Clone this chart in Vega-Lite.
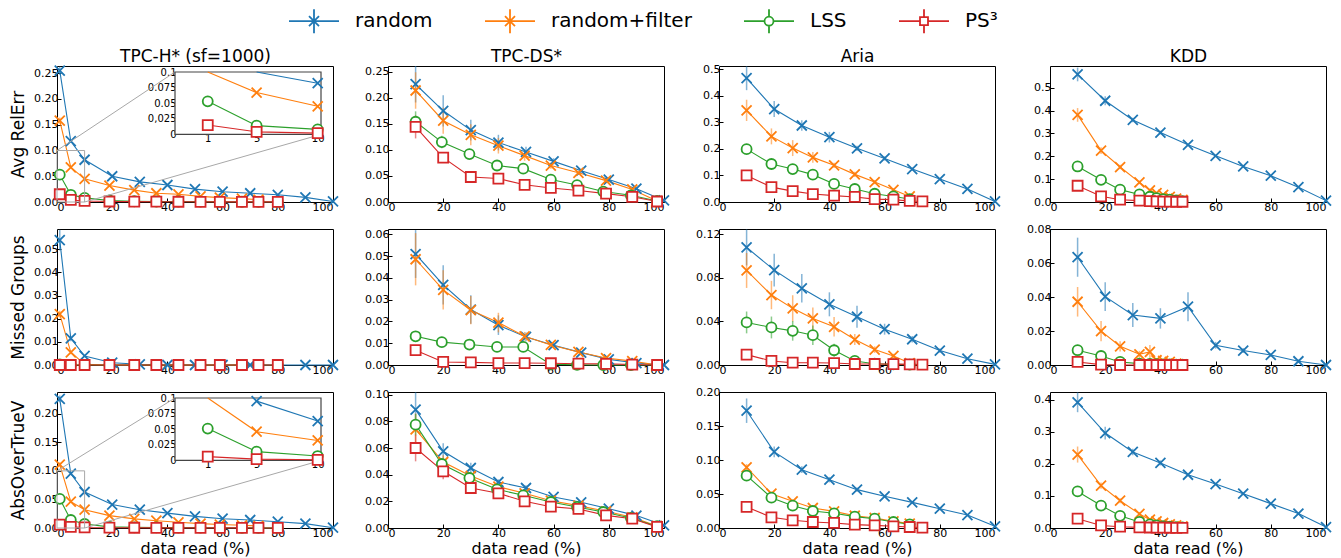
{
  "$schema": "https://vega.github.io/schema/vega-lite/v6.json",
  "padding": {"left": 9, "top": 10, "right": 8, "bottom": 2},
  "data": {
    "values": [
      {"d":"H","m":"rel","s":"random","x":1,"y":0.255,"e":0.008},{"d":"H","m":"rel","s":"random","x":5,"y":0.118,"e":0.003},{"d":"H","m":"rel","s":"random","x":10,"y":0.082},{"d":"H","m":"rel","s":"random","x":20,"y":0.05},{"d":"H","m":"rel","s":"random","x":30,"y":0.039},{"d":"H","m":"rel","s":"random","x":40,"y":0.033},{"d":"H","m":"rel","s":"random","x":50,"y":0.025},{"d":"H","m":"rel","s":"random","x":60,"y":0.02},{"d":"H","m":"rel","s":"random","x":70,"y":0.017},{"d":"H","m":"rel","s":"random","x":80,"y":0.014},{"d":"H","m":"rel","s":"random","x":90,"y":0.009},{"d":"H","m":"rel","s":"random","x":100,"y":0.001},
      {"d":"H","m":"rel","s":"random+filter","x":1,"y":0.158,"e":0.006},{"d":"H","m":"rel","s":"random+filter","x":5,"y":0.067},{"d":"H","m":"rel","s":"random+filter","x":10,"y":0.045},{"d":"H","m":"rel","s":"random+filter","x":19,"y":0.032},{"d":"H","m":"rel","s":"random+filter","x":28,"y":0.023},{"d":"H","m":"rel","s":"random+filter","x":36,"y":0.017},{"d":"H","m":"rel","s":"random+filter","x":44,"y":0.015},{"d":"H","m":"rel","s":"random+filter","x":52,"y":0.011},{"d":"H","m":"rel","s":"random+filter","x":59,"y":0.0085},{"d":"H","m":"rel","s":"random+filter","x":67,"y":0.0065},{"d":"H","m":"rel","s":"random+filter","x":73,"y":0.0045},
      {"d":"H","m":"rel","s":"LSS","x":1,"y":0.053},{"d":"H","m":"rel","s":"LSS","x":5,"y":0.014},{"d":"H","m":"rel","s":"LSS","x":10,"y":0.008},{"d":"H","m":"rel","s":"LSS","x":19,"y":0.003},{"d":"H","m":"rel","s":"LSS","x":28,"y":0.0015},{"d":"H","m":"rel","s":"LSS","x":36,"y":0.001},{"d":"H","m":"rel","s":"LSS","x":44,"y":0.001},{"d":"H","m":"rel","s":"LSS","x":52,"y":0.0008},{"d":"H","m":"rel","s":"LSS","x":59,"y":0.0006},{"d":"H","m":"rel","s":"LSS","x":67,"y":0.0005},{"d":"H","m":"rel","s":"LSS","x":73,"y":0.0004},{"d":"H","m":"rel","s":"LSS","x":80,"y":0.0003},
      {"d":"H","m":"rel","s":"PS³","x":1,"y":0.015},{"d":"H","m":"rel","s":"PS³","x":5,"y":0.004},{"d":"H","m":"rel","s":"PS³","x":10,"y":0.002},{"d":"H","m":"rel","s":"PS³","x":19,"y":0.001},{"d":"H","m":"rel","s":"PS³","x":28,"y":0.0008},{"d":"H","m":"rel","s":"PS³","x":36,"y":0.0006},{"d":"H","m":"rel","s":"PS³","x":44,"y":0.0005},{"d":"H","m":"rel","s":"PS³","x":52,"y":0.0004},{"d":"H","m":"rel","s":"PS³","x":59,"y":0.0003},{"d":"H","m":"rel","s":"PS³","x":67,"y":0.0003},{"d":"H","m":"rel","s":"PS³","x":73,"y":0.0002},{"d":"H","m":"rel","s":"PS³","x":80,"y":0.0002},

      {"d":"H","m":"miss","s":"random","x":1,"y":0.054,"e":0.0045},{"d":"H","m":"miss","s":"random","x":5,"y":0.0115,"e":0.0012},{"d":"H","m":"miss","s":"random","x":10,"y":0.0039,"e":0.0005},{"d":"H","m":"miss","s":"random","x":20,"y":0.001},{"d":"H","m":"miss","s":"random","x":30,"y":0.0003},{"d":"H","m":"miss","s":"random","x":40,"y":0},{"d":"H","m":"miss","s":"random","x":50,"y":0},{"d":"H","m":"miss","s":"random","x":60,"y":0},{"d":"H","m":"miss","s":"random","x":70,"y":0},{"d":"H","m":"miss","s":"random","x":80,"y":0},{"d":"H","m":"miss","s":"random","x":90,"y":0},{"d":"H","m":"miss","s":"random","x":100,"y":0},
      {"d":"H","m":"miss","s":"random+filter","x":1,"y":0.022,"e":0.0015},{"d":"H","m":"miss","s":"random+filter","x":5,"y":0.0055,"e":0.0008},{"d":"H","m":"miss","s":"random+filter","x":10,"y":0.0003},{"d":"H","m":"miss","s":"random+filter","x":19,"y":0},{"d":"H","m":"miss","s":"random+filter","x":28,"y":0},{"d":"H","m":"miss","s":"random+filter","x":36,"y":0},{"d":"H","m":"miss","s":"random+filter","x":44,"y":0},{"d":"H","m":"miss","s":"random+filter","x":52,"y":0},{"d":"H","m":"miss","s":"random+filter","x":59,"y":0},{"d":"H","m":"miss","s":"random+filter","x":67,"y":0},{"d":"H","m":"miss","s":"random+filter","x":73,"y":0},
      {"d":"H","m":"miss","s":"LSS","x":1,"y":0.0003},{"d":"H","m":"miss","s":"LSS","x":5,"y":0},{"d":"H","m":"miss","s":"LSS","x":10,"y":0},{"d":"H","m":"miss","s":"LSS","x":19,"y":0},{"d":"H","m":"miss","s":"LSS","x":28,"y":0},{"d":"H","m":"miss","s":"LSS","x":36,"y":0},{"d":"H","m":"miss","s":"LSS","x":44,"y":0},{"d":"H","m":"miss","s":"LSS","x":52,"y":0},{"d":"H","m":"miss","s":"LSS","x":59,"y":0},{"d":"H","m":"miss","s":"LSS","x":67,"y":0},{"d":"H","m":"miss","s":"LSS","x":73,"y":0},{"d":"H","m":"miss","s":"LSS","x":80,"y":0},
      {"d":"H","m":"miss","s":"PS³","x":1,"y":0},{"d":"H","m":"miss","s":"PS³","x":5,"y":0},{"d":"H","m":"miss","s":"PS³","x":10,"y":0},{"d":"H","m":"miss","s":"PS³","x":19,"y":0},{"d":"H","m":"miss","s":"PS³","x":28,"y":0},{"d":"H","m":"miss","s":"PS³","x":36,"y":0},{"d":"H","m":"miss","s":"PS³","x":44,"y":0},{"d":"H","m":"miss","s":"PS³","x":52,"y":0},{"d":"H","m":"miss","s":"PS³","x":59,"y":0},{"d":"H","m":"miss","s":"PS³","x":67,"y":0},{"d":"H","m":"miss","s":"PS³","x":73,"y":0},{"d":"H","m":"miss","s":"PS³","x":80,"y":0},

      {"d":"H","m":"abs","s":"random","x":1,"y":0.226,"e":0.006},{"d":"H","m":"abs","s":"random","x":5,"y":0.095},{"d":"H","m":"abs","s":"random","x":10,"y":0.063},{"d":"H","m":"abs","s":"random","x":20,"y":0.041},{"d":"H","m":"abs","s":"random","x":30,"y":0.032},{"d":"H","m":"abs","s":"random","x":40,"y":0.026},{"d":"H","m":"abs","s":"random","x":50,"y":0.0204},{"d":"H","m":"abs","s":"random","x":60,"y":0.0163},{"d":"H","m":"abs","s":"random","x":70,"y":0.014},{"d":"H","m":"abs","s":"random","x":80,"y":0.011},{"d":"H","m":"abs","s":"random","x":90,"y":0.0076},{"d":"H","m":"abs","s":"random","x":100,"y":0.0005},
      {"d":"H","m":"abs","s":"random+filter","x":1,"y":0.111,"e":0.004},{"d":"H","m":"abs","s":"random+filter","x":5,"y":0.046},{"d":"H","m":"abs","s":"random+filter","x":10,"y":0.032},{"d":"H","m":"abs","s":"random+filter","x":19,"y":0.0216},{"d":"H","m":"abs","s":"random+filter","x":28,"y":0.016},{"d":"H","m":"abs","s":"random+filter","x":36,"y":0.0128},{"d":"H","m":"abs","s":"random+filter","x":44,"y":0.01},{"d":"H","m":"abs","s":"random+filter","x":52,"y":0.0076},{"d":"H","m":"abs","s":"random+filter","x":59,"y":0.006},{"d":"H","m":"abs","s":"random+filter","x":67,"y":0.0047},{"d":"H","m":"abs","s":"random+filter","x":73,"y":0.0035},
      {"d":"H","m":"abs","s":"LSS","x":1,"y":0.051},{"d":"H","m":"abs","s":"LSS","x":5,"y":0.014},{"d":"H","m":"abs","s":"LSS","x":10,"y":0.007},{"d":"H","m":"abs","s":"LSS","x":19,"y":0.002},{"d":"H","m":"abs","s":"LSS","x":28,"y":0.0012},{"d":"H","m":"abs","s":"LSS","x":36,"y":0.001},{"d":"H","m":"abs","s":"LSS","x":44,"y":0.0008},{"d":"H","m":"abs","s":"LSS","x":52,"y":0.0006},{"d":"H","m":"abs","s":"LSS","x":59,"y":0.0005},{"d":"H","m":"abs","s":"LSS","x":67,"y":0.0004},{"d":"H","m":"abs","s":"LSS","x":73,"y":0.0003},{"d":"H","m":"abs","s":"LSS","x":80,"y":0.0003},
      {"d":"H","m":"abs","s":"PS³","x":1,"y":0.006},{"d":"H","m":"abs","s":"PS³","x":5,"y":0.002},{"d":"H","m":"abs","s":"PS³","x":10,"y":0.001},{"d":"H","m":"abs","s":"PS³","x":19,"y":0.0005},{"d":"H","m":"abs","s":"PS³","x":28,"y":0.0004},{"d":"H","m":"abs","s":"PS³","x":36,"y":0.0003},{"d":"H","m":"abs","s":"PS³","x":44,"y":0.0003},{"d":"H","m":"abs","s":"PS³","x":52,"y":0.0002},{"d":"H","m":"abs","s":"PS³","x":59,"y":0.0002},{"d":"H","m":"abs","s":"PS³","x":67,"y":0.0002},{"d":"H","m":"abs","s":"PS³","x":73,"y":0.0001},{"d":"H","m":"abs","s":"PS³","x":80,"y":0.0001},

      {"d":"DS","m":"rel","s":"random","x":10,"y":0.226,"e":0.035},{"d":"DS","m":"rel","s":"random","x":20,"y":0.175,"e":0.03},{"d":"DS","m":"rel","s":"random","x":30,"y":0.138,"e":0.02},{"d":"DS","m":"rel","s":"random","x":40,"y":0.114,"e":0.015},{"d":"DS","m":"rel","s":"random","x":50,"y":0.096,"e":0.01},{"d":"DS","m":"rel","s":"random","x":60,"y":0.078,"e":0.006},{"d":"DS","m":"rel","s":"random","x":70,"y":0.06,"e":0.004},{"d":"DS","m":"rel","s":"random","x":80,"y":0.043,"e":0.003},{"d":"DS","m":"rel","s":"random","x":90,"y":0.0255,"e":0.002},{"d":"DS","m":"rel","s":"random","x":100,"y":0.003},
      {"d":"DS","m":"rel","s":"random+filter","x":10,"y":0.214,"e":0.035},{"d":"DS","m":"rel","s":"random+filter","x":20,"y":0.156,"e":0.025},{"d":"DS","m":"rel","s":"random+filter","x":30,"y":0.129,"e":0.02},{"d":"DS","m":"rel","s":"random+filter","x":40,"y":0.108,"e":0.015},{"d":"DS","m":"rel","s":"random+filter","x":49.5,"y":0.089,"e":0.01},{"d":"DS","m":"rel","s":"random+filter","x":59,"y":0.07,"e":0.006},{"d":"DS","m":"rel","s":"random+filter","x":69,"y":0.056,"e":0.004},{"d":"DS","m":"rel","s":"random+filter","x":79,"y":0.041,"e":0.003},{"d":"DS","m":"rel","s":"random+filter","x":88.5,"y":0.024,"e":0.002},{"d":"DS","m":"rel","s":"random+filter","x":97.5,"y":0.002},
      {"d":"DS","m":"rel","s":"LSS","x":10,"y":0.154,"e":0.02},{"d":"DS","m":"rel","s":"LSS","x":19.5,"y":0.115,"e":0.012},{"d":"DS","m":"rel","s":"LSS","x":29.5,"y":0.092,"e":0.01},{"d":"DS","m":"rel","s":"LSS","x":39.5,"y":0.07,"e":0.006},{"d":"DS","m":"rel","s":"LSS","x":49,"y":0.064,"e":0.005},{"d":"DS","m":"rel","s":"LSS","x":59,"y":0.043,"e":0.003},{"d":"DS","m":"rel","s":"LSS","x":68.5,"y":0.0325,"e":0.002},{"d":"DS","m":"rel","s":"LSS","x":78,"y":0.02,"e":0.002},{"d":"DS","m":"rel","s":"LSS","x":88,"y":0.0128,"e":0.001},{"d":"DS","m":"rel","s":"LSS","x":97.5,"y":0.002},
      {"d":"DS","m":"rel","s":"PS³","x":10,"y":0.144,"e":0.022},{"d":"DS","m":"rel","s":"PS³","x":20,"y":0.085,"e":0.008},{"d":"DS","m":"rel","s":"PS³","x":30,"y":0.048,"e":0.004},{"d":"DS","m":"rel","s":"PS³","x":40,"y":0.045,"e":0.003},{"d":"DS","m":"rel","s":"PS³","x":49.5,"y":0.033,"e":0.003},{"d":"DS","m":"rel","s":"PS³","x":59,"y":0.027,"e":0.002},{"d":"DS","m":"rel","s":"PS³","x":69,"y":0.022,"e":0.002},{"d":"DS","m":"rel","s":"PS³","x":79,"y":0.016,"e":0.002},{"d":"DS","m":"rel","s":"PS³","x":88.5,"y":0.01,"e":0.001},{"d":"DS","m":"rel","s":"PS³","x":97.5,"y":0.001},

      {"d":"DS","m":"miss","s":"random","x":10,"y":0.051,"e":0.011},{"d":"DS","m":"miss","s":"random","x":20,"y":0.0368,"e":0.009},{"d":"DS","m":"miss","s":"random","x":30,"y":0.0255,"e":0.0065},{"d":"DS","m":"miss","s":"random","x":40,"y":0.0183,"e":0.0045},{"d":"DS","m":"miss","s":"random","x":50,"y":0.0129,"e":0.002},{"d":"DS","m":"miss","s":"random","x":60,"y":0.0091,"e":0.001},{"d":"DS","m":"miss","s":"random","x":70,"y":0.0057,"e":0.0005},{"d":"DS","m":"miss","s":"random","x":80,"y":0.0026,"e":0.0003},{"d":"DS","m":"miss","s":"random","x":90,"y":0.0009},{"d":"DS","m":"miss","s":"random","x":100,"y":0},
      {"d":"DS","m":"miss","s":"random+filter","x":10,"y":0.0486,"e":0.012},{"d":"DS","m":"miss","s":"random+filter","x":20,"y":0.0345,"e":0.009},{"d":"DS","m":"miss","s":"random+filter","x":30,"y":0.0252,"e":0.0065},{"d":"DS","m":"miss","s":"random+filter","x":40,"y":0.0195,"e":0.0045},{"d":"DS","m":"miss","s":"random+filter","x":49.5,"y":0.0132,"e":0.002},{"d":"DS","m":"miss","s":"random+filter","x":59,"y":0.0092,"e":0.001},{"d":"DS","m":"miss","s":"random+filter","x":69,"y":0.006,"e":0.0005},{"d":"DS","m":"miss","s":"random+filter","x":79,"y":0.0032,"e":0.0003},{"d":"DS","m":"miss","s":"random+filter","x":88.5,"y":0.0018},{"d":"DS","m":"miss","s":"random+filter","x":97.5,"y":0},
      {"d":"DS","m":"miss","s":"LSS","x":10,"y":0.0132,"e":0.002},{"d":"DS","m":"miss","s":"LSS","x":19.5,"y":0.0105,"e":0.0015},{"d":"DS","m":"miss","s":"LSS","x":29.5,"y":0.0094,"e":0.001},{"d":"DS","m":"miss","s":"LSS","x":39.5,"y":0.0083,"e":0.001},{"d":"DS","m":"miss","s":"LSS","x":49,"y":0.0083,"e":0.001},{"d":"DS","m":"miss","s":"LSS","x":59,"y":0.0003},{"d":"DS","m":"miss","s":"LSS","x":68.5,"y":0.0001},{"d":"DS","m":"miss","s":"LSS","x":78,"y":0},{"d":"DS","m":"miss","s":"LSS","x":88,"y":0},{"d":"DS","m":"miss","s":"LSS","x":97.5,"y":0},
      {"d":"DS","m":"miss","s":"PS³","x":10,"y":0.0068,"e":0.001},{"d":"DS","m":"miss","s":"PS³","x":20,"y":0.0014},{"d":"DS","m":"miss","s":"PS³","x":30,"y":0.0012},{"d":"DS","m":"miss","s":"PS³","x":40,"y":0.0009},{"d":"DS","m":"miss","s":"PS³","x":49.5,"y":0.0009},{"d":"DS","m":"miss","s":"PS³","x":59,"y":0.0008},{"d":"DS","m":"miss","s":"PS³","x":69,"y":0.0006},{"d":"DS","m":"miss","s":"PS³","x":79,"y":0.0005},{"d":"DS","m":"miss","s":"PS³","x":88.5,"y":0.0002},{"d":"DS","m":"miss","s":"PS³","x":97.5,"y":0},

      {"d":"DS","m":"abs","s":"random","x":10,"y":0.0888,"e":0.013},{"d":"DS","m":"abs","s":"random","x":20,"y":0.0575,"e":0.006},{"d":"DS","m":"abs","s":"random","x":30,"y":0.045,"e":0.004},{"d":"DS","m":"abs","s":"random","x":40,"y":0.0345,"e":0.002},{"d":"DS","m":"abs","s":"random","x":50,"y":0.03,"e":0.002},{"d":"DS","m":"abs","s":"random","x":60,"y":0.0233,"e":0.001},{"d":"DS","m":"abs","s":"random","x":70,"y":0.0193,"e":0.001},{"d":"DS","m":"abs","s":"random","x":80,"y":0.0145,"e":0.001},{"d":"DS","m":"abs","s":"random","x":90,"y":0.0093},{"d":"DS","m":"abs","s":"random","x":100,"y":0.002},
      {"d":"DS","m":"abs","s":"random+filter","x":10,"y":0.074,"e":0.012},{"d":"DS","m":"abs","s":"random+filter","x":20,"y":0.0495,"e":0.005},{"d":"DS","m":"abs","s":"random+filter","x":30,"y":0.039,"e":0.003},{"d":"DS","m":"abs","s":"random+filter","x":40,"y":0.031,"e":0.002},{"d":"DS","m":"abs","s":"random+filter","x":49.5,"y":0.026,"e":0.001},{"d":"DS","m":"abs","s":"random+filter","x":59,"y":0.0205,"e":0.001},{"d":"DS","m":"abs","s":"random+filter","x":69,"y":0.0168},{"d":"DS","m":"abs","s":"random+filter","x":79,"y":0.0125},{"d":"DS","m":"abs","s":"random+filter","x":88.5,"y":0.008},{"d":"DS","m":"abs","s":"random+filter","x":97.5,"y":0.0015},
      {"d":"DS","m":"abs","s":"LSS","x":10,"y":0.0775,"e":0.008},{"d":"DS","m":"abs","s":"LSS","x":19.5,"y":0.048,"e":0.004},{"d":"DS","m":"abs","s":"LSS","x":29.5,"y":0.0375,"e":0.003},{"d":"DS","m":"abs","s":"LSS","x":39.5,"y":0.029,"e":0.002},{"d":"DS","m":"abs","s":"LSS","x":49,"y":0.0245,"e":0.001},{"d":"DS","m":"abs","s":"LSS","x":59,"y":0.0195},{"d":"DS","m":"abs","s":"LSS","x":68.5,"y":0.0158},{"d":"DS","m":"abs","s":"LSS","x":78,"y":0.012},{"d":"DS","m":"abs","s":"LSS","x":88,"y":0.0075},{"d":"DS","m":"abs","s":"LSS","x":97.5,"y":0.0013},
      {"d":"DS","m":"abs","s":"PS³","x":10,"y":0.06,"e":0.01},{"d":"DS","m":"abs","s":"PS³","x":20,"y":0.0425,"e":0.006},{"d":"DS","m":"abs","s":"PS³","x":30,"y":0.03,"e":0.004},{"d":"DS","m":"abs","s":"PS³","x":40,"y":0.026,"e":0.003},{"d":"DS","m":"abs","s":"PS³","x":49.5,"y":0.02,"e":0.002},{"d":"DS","m":"abs","s":"PS³","x":59,"y":0.016,"e":0.001},{"d":"DS","m":"abs","s":"PS³","x":69,"y":0.0143},{"d":"DS","m":"abs","s":"PS³","x":79,"y":0.0095},{"d":"DS","m":"abs","s":"PS³","x":88.5,"y":0.007},{"d":"DS","m":"abs","s":"PS³","x":97.5,"y":0.0008},

      {"d":"Aria","m":"rel","s":"random","x":10,"y":0.466,"e":0.045},{"d":"Aria","m":"rel","s":"random","x":20,"y":0.35,"e":0.03},{"d":"Aria","m":"rel","s":"random","x":30,"y":0.288,"e":0.02},{"d":"Aria","m":"rel","s":"random","x":40,"y":0.244,"e":0.02},{"d":"Aria","m":"rel","s":"random","x":50,"y":0.202,"e":0.01},{"d":"Aria","m":"rel","s":"random","x":60,"y":0.164,"e":0.008},{"d":"Aria","m":"rel","s":"random","x":70,"y":0.124,"e":0.006},{"d":"Aria","m":"rel","s":"random","x":80,"y":0.0865,"e":0.004},{"d":"Aria","m":"rel","s":"random","x":90,"y":0.049,"e":0.003},{"d":"Aria","m":"rel","s":"random","x":100,"y":0.002},
      {"d":"Aria","m":"rel","s":"random+filter","x":10,"y":0.345,"e":0.04},{"d":"Aria","m":"rel","s":"random+filter","x":19,"y":0.247,"e":0.03},{"d":"Aria","m":"rel","s":"random+filter","x":26.7,"y":0.203,"e":0.03},{"d":"Aria","m":"rel","s":"random+filter","x":34,"y":0.168,"e":0.02},{"d":"Aria","m":"rel","s":"random+filter","x":41.7,"y":0.138,"e":0.01},{"d":"Aria","m":"rel","s":"random+filter","x":49.2,"y":0.104,"e":0.01},{"d":"Aria","m":"rel","s":"random+filter","x":56.4,"y":0.075,"e":0.008},{"d":"Aria","m":"rel","s":"random+filter","x":63.2,"y":0.046,"e":0.006},{"d":"Aria","m":"rel","s":"random+filter","x":69.1,"y":0.021,"e":0.004},
      {"d":"Aria","m":"rel","s":"LSS","x":10,"y":0.199,"e":0.015},{"d":"Aria","m":"rel","s":"LSS","x":19,"y":0.143,"e":0.01},{"d":"Aria","m":"rel","s":"LSS","x":26.7,"y":0.124,"e":0.008},{"d":"Aria","m":"rel","s":"LSS","x":34,"y":0.103,"e":0.006},{"d":"Aria","m":"rel","s":"LSS","x":41.7,"y":0.068,"e":0.005},{"d":"Aria","m":"rel","s":"LSS","x":49.2,"y":0.049,"e":0.004},{"d":"Aria","m":"rel","s":"LSS","x":56.4,"y":0.031,"e":0.003},{"d":"Aria","m":"rel","s":"LSS","x":63.2,"y":0.021,"e":0.002},{"d":"Aria","m":"rel","s":"LSS","x":69.1,"y":0.011,"e":0.002},
      {"d":"Aria","m":"rel","s":"PS³","x":10,"y":0.1,"e":0.01},{"d":"Aria","m":"rel","s":"PS³","x":19,"y":0.056,"e":0.005},{"d":"Aria","m":"rel","s":"PS³","x":26.7,"y":0.041,"e":0.004},{"d":"Aria","m":"rel","s":"PS³","x":34,"y":0.03,"e":0.003},{"d":"Aria","m":"rel","s":"PS³","x":41.7,"y":0.024},{"d":"Aria","m":"rel","s":"PS³","x":49.2,"y":0.019},{"d":"Aria","m":"rel","s":"PS³","x":56.4,"y":0.011},{"d":"Aria","m":"rel","s":"PS³","x":63.2,"y":0.009},{"d":"Aria","m":"rel","s":"PS³","x":69.1,"y":0.004},{"d":"Aria","m":"rel","s":"PS³","x":73.7,"y":0.002},

      {"d":"Aria","m":"miss","s":"random","x":10,"y":0.1077,"e":0.0165},{"d":"Aria","m":"miss","s":"random","x":20,"y":0.0869,"e":0.015},{"d":"Aria","m":"miss","s":"random","x":30,"y":0.0703,"e":0.013},{"d":"Aria","m":"miss","s":"random","x":40,"y":0.0556,"e":0.011},{"d":"Aria","m":"miss","s":"random","x":50,"y":0.0442,"e":0.01},{"d":"Aria","m":"miss","s":"random","x":60,"y":0.0328,"e":0.005},{"d":"Aria","m":"miss","s":"random","x":70,"y":0.0236,"e":0.003},{"d":"Aria","m":"miss","s":"random","x":80,"y":0.0132,"e":0.002},{"d":"Aria","m":"miss","s":"random","x":90,"y":0.0058,"e":0.001},{"d":"Aria","m":"miss","s":"random","x":100,"y":0.0006},
      {"d":"Aria","m":"miss","s":"random+filter","x":10,"y":0.0866,"e":0.016},{"d":"Aria","m":"miss","s":"random+filter","x":19,"y":0.0641,"e":0.013},{"d":"Aria","m":"miss","s":"random+filter","x":26.7,"y":0.0519,"e":0.012},{"d":"Aria","m":"miss","s":"random+filter","x":34,"y":0.0427,"e":0.01},{"d":"Aria","m":"miss","s":"random+filter","x":41.7,"y":0.035,"e":0.009},{"d":"Aria","m":"miss","s":"random+filter","x":49.2,"y":0.0233,"e":0.005},{"d":"Aria","m":"miss","s":"random+filter","x":56.4,"y":0.0141,"e":0.003},{"d":"Aria","m":"miss","s":"random+filter","x":63.2,"y":0.0083,"e":0.002},{"d":"Aria","m":"miss","s":"random+filter","x":69.1,"y":0.0018,"e":0.001},
      {"d":"Aria","m":"miss","s":"LSS","x":10,"y":0.039,"e":0.01},{"d":"Aria","m":"miss","s":"LSS","x":19,"y":0.0344,"e":0.01},{"d":"Aria","m":"miss","s":"LSS","x":26.7,"y":0.0313,"e":0.009},{"d":"Aria","m":"miss","s":"LSS","x":34,"y":0.0273,"e":0.009},{"d":"Aria","m":"miss","s":"LSS","x":41.7,"y":0.0135,"e":0.006},{"d":"Aria","m":"miss","s":"LSS","x":49.2,"y":0.0037,"e":0.002},{"d":"Aria","m":"miss","s":"LSS","x":56.4,"y":0.0012,"e":0.001},{"d":"Aria","m":"miss","s":"LSS","x":63.2,"y":0.0006},{"d":"Aria","m":"miss","s":"LSS","x":69.1,"y":0.0003},
      {"d":"Aria","m":"miss","s":"PS³","x":10,"y":0.0095,"e":0.002},{"d":"Aria","m":"miss","s":"PS³","x":19,"y":0.0037,"e":0.001},{"d":"Aria","m":"miss","s":"PS³","x":26.7,"y":0.0021},{"d":"Aria","m":"miss","s":"PS³","x":34,"y":0.0021},{"d":"Aria","m":"miss","s":"PS³","x":41.7,"y":0.0018},{"d":"Aria","m":"miss","s":"PS³","x":49.2,"y":0.0009},{"d":"Aria","m":"miss","s":"PS³","x":56.4,"y":0.0009},{"d":"Aria","m":"miss","s":"PS³","x":63.2,"y":0.0008},{"d":"Aria","m":"miss","s":"PS³","x":69.1,"y":0.0006},{"d":"Aria","m":"miss","s":"PS³","x":73.7,"y":0.0003},

      {"d":"Aria","m":"abs","s":"random","x":10,"y":0.1725,"e":0.018},{"d":"Aria","m":"abs","s":"random","x":20,"y":0.112,"e":0.008},{"d":"Aria","m":"abs","s":"random","x":30,"y":0.0858,"e":0.005},{"d":"Aria","m":"abs","s":"random","x":40,"y":0.0711,"e":0.004},{"d":"Aria","m":"abs","s":"random","x":50,"y":0.0564,"e":0.003},{"d":"Aria","m":"abs","s":"random","x":60,"y":0.0466,"e":0.002},{"d":"Aria","m":"abs","s":"random","x":70,"y":0.0377,"e":0.002},{"d":"Aria","m":"abs","s":"random","x":80,"y":0.0284,"e":0.001},{"d":"Aria","m":"abs","s":"random","x":90,"y":0.0191,"e":0.001},{"d":"Aria","m":"abs","s":"random","x":100,"y":0.0025},
      {"d":"Aria","m":"abs","s":"random+filter","x":10,"y":0.089,"e":0.005},{"d":"Aria","m":"abs","s":"random+filter","x":19,"y":0.0505,"e":0.003},{"d":"Aria","m":"abs","s":"random+filter","x":26.7,"y":0.0392,"e":0.003},{"d":"Aria","m":"abs","s":"random+filter","x":34,"y":0.0294,"e":0.002},{"d":"Aria","m":"abs","s":"random+filter","x":41.7,"y":0.0245,"e":0.002},{"d":"Aria","m":"abs","s":"random+filter","x":49.2,"y":0.018,"e":0.001},{"d":"Aria","m":"abs","s":"random+filter","x":56.4,"y":0.0147,"e":0.001},{"d":"Aria","m":"abs","s":"random+filter","x":63.2,"y":0.0098,"e":0.001},{"d":"Aria","m":"abs","s":"random+filter","x":69.1,"y":0.0064,"e":0.001},
      {"d":"Aria","m":"abs","s":"LSS","x":10,"y":0.077,"e":0.004},{"d":"Aria","m":"abs","s":"LSS","x":19,"y":0.0446,"e":0.003},{"d":"Aria","m":"abs","s":"LSS","x":26.7,"y":0.0328,"e":0.002},{"d":"Aria","m":"abs","s":"LSS","x":34,"y":0.025,"e":0.002},{"d":"Aria","m":"abs","s":"LSS","x":41.7,"y":0.0216,"e":0.001},{"d":"Aria","m":"abs","s":"LSS","x":49.2,"y":0.0167},{"d":"Aria","m":"abs","s":"LSS","x":56.4,"y":0.0137},{"d":"Aria","m":"abs","s":"LSS","x":63.2,"y":0.0088},{"d":"Aria","m":"abs","s":"LSS","x":69.1,"y":0.0054},
      {"d":"Aria","m":"abs","s":"PS³","x":10,"y":0.031,"e":0.002},{"d":"Aria","m":"abs","s":"PS³","x":19,"y":0.0157,"e":0.001},{"d":"Aria","m":"abs","s":"PS³","x":26.7,"y":0.0113},{"d":"Aria","m":"abs","s":"PS³","x":34,"y":0.0088},{"d":"Aria","m":"abs","s":"PS³","x":41.7,"y":0.0074},{"d":"Aria","m":"abs","s":"PS³","x":49.2,"y":0.0049},{"d":"Aria","m":"abs","s":"PS³","x":56.4,"y":0.0039},{"d":"Aria","m":"abs","s":"PS³","x":63.2,"y":0.0025},{"d":"Aria","m":"abs","s":"PS³","x":69.1,"y":0.0015},{"d":"Aria","m":"abs","s":"PS³","x":73.7,"y":0.0005},

      {"d":"KDD","m":"rel","s":"random","x":10,"y":0.558,"e":0.03},{"d":"KDD","m":"rel","s":"random","x":20,"y":0.443,"e":0.02},{"d":"KDD","m":"rel","s":"random","x":30,"y":0.359,"e":0.01},{"d":"KDD","m":"rel","s":"random","x":40,"y":0.304,"e":0.008},{"d":"KDD","m":"rel","s":"random","x":50,"y":0.25,"e":0.006},{"d":"KDD","m":"rel","s":"random","x":60,"y":0.202,"e":0.005},{"d":"KDD","m":"rel","s":"random","x":70,"y":0.1555,"e":0.004},{"d":"KDD","m":"rel","s":"random","x":80,"y":0.115,"e":0.003},{"d":"KDD","m":"rel","s":"random","x":90,"y":0.065,"e":0.002},{"d":"KDD","m":"rel","s":"random","x":100,"y":0.006},
      {"d":"KDD","m":"rel","s":"random+filter","x":10,"y":0.381,"e":0.03},{"d":"KDD","m":"rel","s":"random+filter","x":18.5,"y":0.225,"e":0.015},{"d":"KDD","m":"rel","s":"random+filter","x":25.4,"y":0.153,"e":0.01},{"d":"KDD","m":"rel","s":"random+filter","x":32.4,"y":0.086,"e":0.008},{"d":"KDD","m":"rel","s":"random+filter","x":36.2,"y":0.051,"e":0.008},{"d":"KDD","m":"rel","s":"random+filter","x":38.6,"y":0.039,"e":0.006},{"d":"KDD","m":"rel","s":"random+filter","x":41,"y":0.031,"e":0.005},{"d":"KDD","m":"rel","s":"random+filter","x":43.4,"y":0.022,"e":0.004},{"d":"KDD","m":"rel","s":"random+filter","x":45.7,"y":0.015,"e":0.003},{"d":"KDD","m":"rel","s":"random+filter","x":48,"y":0.009,"e":0.002},
      {"d":"KDD","m":"rel","s":"LSS","x":10,"y":0.1555,"e":0.005},{"d":"KDD","m":"rel","s":"LSS","x":18.5,"y":0.097,"e":0.004},{"d":"KDD","m":"rel","s":"LSS","x":25.4,"y":0.054,"e":0.003},{"d":"KDD","m":"rel","s":"LSS","x":32.4,"y":0.033},{"d":"KDD","m":"rel","s":"LSS","x":36.2,"y":0.023},{"d":"KDD","m":"rel","s":"LSS","x":38.6,"y":0.017},{"d":"KDD","m":"rel","s":"LSS","x":41,"y":0.013},{"d":"KDD","m":"rel","s":"LSS","x":43.4,"y":0.01},{"d":"KDD","m":"rel","s":"LSS","x":45.7,"y":0.007},{"d":"KDD","m":"rel","s":"LSS","x":48,"y":0.004},
      {"d":"KDD","m":"rel","s":"PS³","x":10,"y":0.071,"e":0.004},{"d":"KDD","m":"rel","s":"PS³","x":18.5,"y":0.025},{"d":"KDD","m":"rel","s":"PS³","x":25.4,"y":0.01},{"d":"KDD","m":"rel","s":"PS³","x":32.4,"y":0.006},{"d":"KDD","m":"rel","s":"PS³","x":36.2,"y":0.004},{"d":"KDD","m":"rel","s":"PS³","x":38.6,"y":0.003},{"d":"KDD","m":"rel","s":"PS³","x":41,"y":0.002},{"d":"KDD","m":"rel","s":"PS³","x":43.4,"y":0.002},{"d":"KDD","m":"rel","s":"PS³","x":45.7,"y":0.001},{"d":"KDD","m":"rel","s":"PS³","x":48,"y":0.001},

      {"d":"KDD","m":"miss","s":"random","x":10,"y":0.0634,"e":0.0115},{"d":"KDD","m":"miss","s":"random","x":20,"y":0.0402,"e":0.0085},{"d":"KDD","m":"miss","s":"random","x":30,"y":0.0294,"e":0.007},{"d":"KDD","m":"miss","s":"random","x":40,"y":0.0274,"e":0.006},{"d":"KDD","m":"miss","s":"random","x":50,"y":0.0343,"e":0.0085},{"d":"KDD","m":"miss","s":"random","x":60,"y":0.0116,"e":0.002},{"d":"KDD","m":"miss","s":"random","x":70,"y":0.0085,"e":0.0015},{"d":"KDD","m":"miss","s":"random","x":80,"y":0.0059,"e":0.001},{"d":"KDD","m":"miss","s":"random","x":90,"y":0.0022,"e":0.001},{"d":"KDD","m":"miss","s":"random","x":100,"y":0},
      {"d":"KDD","m":"miss","s":"random+filter","x":10,"y":0.0372,"e":0.0087},{"d":"KDD","m":"miss","s":"random+filter","x":18.5,"y":0.0199,"e":0.006},{"d":"KDD","m":"miss","s":"random+filter","x":25.4,"y":0.011,"e":0.003},{"d":"KDD","m":"miss","s":"random+filter","x":32.4,"y":0.0063,"e":0.002},{"d":"KDD","m":"miss","s":"random+filter","x":36.2,"y":0.0077,"e":0.004},{"d":"KDD","m":"miss","s":"random+filter","x":38.6,"y":0.0028,"e":0.001},{"d":"KDD","m":"miss","s":"random+filter","x":41,"y":0.0024,"e":0.001},{"d":"KDD","m":"miss","s":"random+filter","x":43.4,"y":0.0018,"e":0.001},{"d":"KDD","m":"miss","s":"random+filter","x":45.7,"y":0.0008},{"d":"KDD","m":"miss","s":"random+filter","x":48,"y":0.0004},
      {"d":"KDD","m":"miss","s":"LSS","x":10,"y":0.0087,"e":0.002},{"d":"KDD","m":"miss","s":"LSS","x":18.5,"y":0.0053,"e":0.001},{"d":"KDD","m":"miss","s":"LSS","x":25.4,"y":0.0018},{"d":"KDD","m":"miss","s":"LSS","x":32.4,"y":0.0008},{"d":"KDD","m":"miss","s":"LSS","x":36.2,"y":0.0006},{"d":"KDD","m":"miss","s":"LSS","x":38.6,"y":0.0005},{"d":"KDD","m":"miss","s":"LSS","x":41,"y":0.0004},{"d":"KDD","m":"miss","s":"LSS","x":43.4,"y":0.0003},{"d":"KDD","m":"miss","s":"LSS","x":45.7,"y":0.0002},{"d":"KDD","m":"miss","s":"LSS","x":48,"y":0.0002},
      {"d":"KDD","m":"miss","s":"PS³","x":10,"y":0.0018,"e":0.0008},{"d":"KDD","m":"miss","s":"PS³","x":18.5,"y":0.0002},{"d":"KDD","m":"miss","s":"PS³","x":25.4,"y":0},{"d":"KDD","m":"miss","s":"PS³","x":32.4,"y":0},{"d":"KDD","m":"miss","s":"PS³","x":36.2,"y":0},{"d":"KDD","m":"miss","s":"PS³","x":38.6,"y":0},{"d":"KDD","m":"miss","s":"PS³","x":41,"y":0},{"d":"KDD","m":"miss","s":"PS³","x":43.4,"y":0},{"d":"KDD","m":"miss","s":"PS³","x":45.7,"y":0},{"d":"KDD","m":"miss","s":"PS³","x":48,"y":0},

      {"d":"KDD","m":"abs","s":"random","x":10,"y":0.392,"e":0.031},{"d":"KDD","m":"abs","s":"random","x":20,"y":0.296,"e":0.02},{"d":"KDD","m":"abs","s":"random","x":30,"y":0.237,"e":0.01},{"d":"KDD","m":"abs","s":"random","x":40,"y":0.203,"e":0.008},{"d":"KDD","m":"abs","s":"random","x":50,"y":0.166,"e":0.005},{"d":"KDD","m":"abs","s":"random","x":60,"y":0.137,"e":0.004},{"d":"KDD","m":"abs","s":"random","x":70,"y":0.107,"e":0.003},{"d":"KDD","m":"abs","s":"random","x":80,"y":0.076,"e":0.002},{"d":"KDD","m":"abs","s":"random","x":90,"y":0.045,"e":0.002},{"d":"KDD","m":"abs","s":"random","x":100,"y":0.003},
      {"d":"KDD","m":"abs","s":"random+filter","x":10,"y":0.229,"e":0.025},{"d":"KDD","m":"abs","s":"random+filter","x":18.5,"y":0.132,"e":0.01},{"d":"KDD","m":"abs","s":"random+filter","x":25.4,"y":0.085,"e":0.008},{"d":"KDD","m":"abs","s":"random+filter","x":32.4,"y":0.044,"e":0.006},{"d":"KDD","m":"abs","s":"random+filter","x":36.2,"y":0.026,"e":0.005},{"d":"KDD","m":"abs","s":"random+filter","x":38.6,"y":0.021,"e":0.004},{"d":"KDD","m":"abs","s":"random+filter","x":41,"y":0.0156,"e":0.003},{"d":"KDD","m":"abs","s":"random+filter","x":43.4,"y":0.011,"e":0.002},{"d":"KDD","m":"abs","s":"random+filter","x":45.7,"y":0.008},{"d":"KDD","m":"abs","s":"random+filter","x":48,"y":0.005},
      {"d":"KDD","m":"abs","s":"LSS","x":10,"y":0.114,"e":0.005},{"d":"KDD","m":"abs","s":"LSS","x":18.5,"y":0.07,"e":0.004},{"d":"KDD","m":"abs","s":"LSS","x":25.4,"y":0.038,"e":0.003},{"d":"KDD","m":"abs","s":"LSS","x":32.4,"y":0.019},{"d":"KDD","m":"abs","s":"LSS","x":36.2,"y":0.011},{"d":"KDD","m":"abs","s":"LSS","x":38.6,"y":0.008},{"d":"KDD","m":"abs","s":"LSS","x":41,"y":0.006},{"d":"KDD","m":"abs","s":"LSS","x":43.4,"y":0.004},{"d":"KDD","m":"abs","s":"LSS","x":45.7,"y":0.003},{"d":"KDD","m":"abs","s":"LSS","x":48,"y":0.002},
      {"d":"KDD","m":"abs","s":"PS³","x":10,"y":0.029,"e":0.003},{"d":"KDD","m":"abs","s":"PS³","x":18.5,"y":0.008},{"d":"KDD","m":"abs","s":"PS³","x":25.4,"y":0.004},{"d":"KDD","m":"abs","s":"PS³","x":32.4,"y":0.002},{"d":"KDD","m":"abs","s":"PS³","x":36.2,"y":0.0015},{"d":"KDD","m":"abs","s":"PS³","x":38.6,"y":0.001},{"d":"KDD","m":"abs","s":"PS³","x":41,"y":0.001},{"d":"KDD","m":"abs","s":"PS³","x":43.4,"y":0.0008},{"d":"KDD","m":"abs","s":"PS³","x":45.7,"y":0.0006},{"d":"KDD","m":"abs","s":"PS³","x":48,"y":0.0005}
    ]
  },
  "columns": 4,
  "spacing": {"row": 27, "column": 55},
  "bounds": "flush",
  "concat": [
    {
      "width": 276, "height": 136,
      "transform": [{"filter": "datum.d == 'H' && datum.m == 'rel'"}],
      "layer": [
        {
          "encoding": {
            "x": {"field": "x", "type": "quantitative", "scale": {"domain": [0, 100]}, "axis": {"values": [0, 20, 40, 60, 80, 100], "title": null}},
            "y": {"field": "y", "type": "quantitative", "scale": {"domain": [0, 0.264], "nice": false}, "axis": {"values": [0, 0.05, 0.1, 0.15, 0.2, 0.25], "format": ".2f", "title": "Avg RelErr"}},
            "color": {
              "field": "s", "type": "nominal",
              "scale": {"domain": ["random", "random+filter", "LSS", "PS³"], "range": ["#1f77b4", "#ff7f0e", "#2ca02c", "#d62728"]},
              "legend": {
                "orient": "none", "legendX": 246, "legendY": -56, "direction": "horizontal", "title": null,
                "labelFontSize": 20, "labelFont": "DejaVu Sans", "labelColor": "black",
                "symbolSize": 400, "columnPadding": 48, "labelOffset": 30, "symbolStrokeWidth": 1.8,
                "encode": {
                  "symbols": {
                    "update": {
                      "shape": {"signal": "datum.value == 'LSS' ? 'M-2.5,0L-0.45,0M0.45,0L2.5,0M0.45,0A0.45 0.45 0 1 1 -0.45,0A0.45 0.45 0 1 1 0.45,0M0,-1.2L0,-0.45M0,0.45L0,1.2' : datum.value == 'PS³' ? 'M-2.5,0L-0.4,0M0.4,0L2.5,0M-0.4,-0.4L0.4,-0.4L0.4,0.4L-0.4,0.4ZM0,-1.2L0,-0.4M0,0.4L0,1.2' : 'M-2.5,0L2.5,0M-0.5,-0.5L0.5,0.5M-0.5,0.5L0.5,-0.5M0,-1.2L0,1.2'"},
                      "size": {"value": 400},
                      "fill": {"value": "transparent"},
                      "stroke": {"scale": "color", "field": "value"},
                      "strokeWidth": {"value": 1.8},
                      "opacity": {"value": 1}
                    }
                  }
                }
              }
            }
          },
          "layer": [
            {"transform": [{"filter": "datum.e > 0"}], "mark": {"type": "errorbar", "ticks": false, "clip": true, "rule": {"strokeWidth": 1.5, "opacity": 0.55}}, "encoding": {"yError": {"field": "e"}}},
            {"mark": {"type": "line", "strokeWidth": 1.1}, "encoding": {"x": {"field": "x", "type": "quantitative", "axis": null}}},
            {"mark": {"type": "point", "filled": false, "fill": "white", "size": 100, "strokeWidth": 1.8, "opacity": 1}, "encoding": {"x": {"field": "x", "type": "quantitative", "axis": {"orient": "top", "title": "TPC-H* (sf=1000)", "labels": false, "ticks": false, "domain": false, "titlePadding": 1, "titleFontSize": 17}}, "shape": {"condition": [{"test": "datum.s == 'LSS'", "value": "circle"}, {"test": "datum.s == 'PS³'", "value": "square"}], "value": "M-1,-1L1,1M-1,1L1,-1"}}},
            {"transform": [{"filter": "datum.s == 'random' && datum.x == 10"}], "mark": {"type": "rect", "fill": null, "stroke": "#a8a8a8", "strokeWidth": 1}, "encoding": {"x": {"datum": 0, "axis": null}, "x2": {"datum": 10}, "y": {"datum": 0}, "y2": {"datum": 0.1}, "color": {"value": "#a8a8a8"}}},
            {"transform": [{"filter": "datum.s == 'random' && datum.x == 10"}], "mark": {"type": "rule", "strokeWidth": 1}, "encoding": {"x": {"datum": 0, "axis": null}, "y": {"datum": 0.1}, "x2": {"datum": 42.75}, "y2": {"datum": 0.2524}, "color": {"value": "#a8a8a8"}}},
            {"transform": [{"filter": "datum.s == 'random' && datum.x == 10"}], "mark": {"type": "rule", "strokeWidth": 1}, "encoding": {"x": {"datum": 10, "axis": null}, "y": {"datum": 0}, "x2": {"datum": 95.65}, "y2": {"datum": 0.1312}, "color": {"value": "#a8a8a8"}}}
          ],
          "resolve": {"axis": {"x": "independent"}}
        },
        {
          "transform": [{"filter": "datum.x <= 10"}, {"window": [{"op": "lead", "field": "y", "as": "ny"}], "groupby": ["s"], "sort": [{"field": "x"}]}],
          "encoding": {
            "x": {"field": "x", "type": "quantitative", "scale": {"domain": [-1.68, 10.27], "range": [118, 264], "nice": false, "zero": false}, "axis": {"orient": "bottom", "offset": -67.6, "values": [1, 5, 10], "labelFontSize": 10, "tickSize": -3, "labelPadding": 2, "title": null}},
            "y": {"field": "y", "type": "quantitative", "scale": {"domain": [0, 0.1], "range": [68.4, 6], "clamp": true, "nice": false, "zero": false}, "axis": {"orient": "left", "offset": -118, "values": [0, 0.025, 0.05, 0.075, 0.1], "labelExpr": "datum.value == 0 ? '0' : datum.value == 0.025 ? '0,025' : format(datum.value, '.3~f')", "labelFontSize": 10, "tickSize": -3, "labelPadding": 2, "title": null}},
            "color": {"field": "s", "type": "nominal", "scale": {"domain": ["random", "random+filter", "LSS", "PS³"], "range": ["#1f77b4", "#ff7f0e", "#2ca02c", "#d62728"]}}
          },
          "layer": [
            {"transform": [{"filter": "datum.s == 'random' && datum.x == 10"}], "mark": {"type": "rect", "fill": "white", "stroke": "#444444", "strokeWidth": 1.2}, "encoding": {"x": {"datum": -1.68}, "x2": {"datum": 10.27}, "y": {"datum": 0}, "y2": {"datum": 0.1}, "color": {"value": "white"}}},
            {"transform": [{"filter": "datum.y <= 0.1 || (datum.ny <= 0.1 && datum.y < 0.2)"}], "mark": {"type": "line", "strokeWidth": 1.1}},
            {"transform": [{"filter": "datum.y <= 0.1"}], "mark": {"type": "point", "filled": false, "fill": "white", "size": 100, "strokeWidth": 1.8, "opacity": 1}, "encoding": {"shape": {"condition": [{"test": "datum.s == 'LSS'", "value": "circle"}, {"test": "datum.s == 'PS³'", "value": "square"}], "value": "M-1,-1L1,1M-1,1L1,-1"}}}
          ]
        }
      ],
      "resolve": {"scale": {"x": "independent", "y": "independent"}}
    },
    {
      "width": 276, "height": 136,
      "transform": [{"filter": "datum.d == 'DS' && datum.m == 'rel'"}],
      "encoding": {
        "x": {"field": "x", "type": "quantitative", "scale": {"domain": [0, 100]}, "axis": {"values": [0, 20, 40, 60, 80, 100], "title": null}},
        "y": {"field": "y", "type": "quantitative", "scale": {"domain": [0, 0.261], "nice": false}, "axis": {"values": [0, 0.05, 0.1, 0.15, 0.2, 0.25], "format": ".2f", "title": null}},
        "color": {"field": "s", "type": "nominal", "scale": {"domain": ["random", "random+filter", "LSS", "PS³"], "range": ["#1f77b4", "#ff7f0e", "#2ca02c", "#d62728"]}}
      },
      "layer": [
        {"transform": [{"filter": "datum.e > 0"}], "mark": {"type": "errorbar", "ticks": false, "clip": true, "rule": {"strokeWidth": 1.5, "opacity": 0.55}}, "encoding": {"yError": {"field": "e"}}},
        {"mark": {"type": "line", "strokeWidth": 1.1}, "encoding": {"x": {"field": "x", "type": "quantitative", "axis": null}}},
        {"mark": {"type": "point", "filled": false, "fill": "white", "size": 100, "strokeWidth": 1.8, "opacity": 1}, "encoding": {"x": {"field": "x", "type": "quantitative", "axis": {"orient": "top", "title": "TPC-DS*", "labels": false, "ticks": false, "domain": false, "titlePadding": 1, "titleFontSize": 17}}, "shape": {"condition": [{"test": "datum.s == 'LSS'", "value": "circle"}, {"test": "datum.s == 'PS³'", "value": "square"}], "value": "M-1,-1L1,1M-1,1L1,-1"}}}
      ],
      "resolve": {"axis": {"x": "independent"}}
    },
    {
      "width": 276, "height": 136,
      "transform": [{"filter": "datum.d == 'Aria' && datum.m == 'rel'"}],
      "encoding": {
        "x": {"field": "x", "type": "quantitative", "scale": {"domain": [0, 100]}, "axis": {"values": [0, 20, 40, 60, 80, 100], "title": null}},
        "y": {"field": "y", "type": "quantitative", "scale": {"domain": [0, 0.512], "nice": false}, "axis": {"values": [0, 0.1, 0.2, 0.3, 0.4, 0.5], "format": ".1f", "title": null}},
        "color": {"field": "s", "type": "nominal", "scale": {"domain": ["random", "random+filter", "LSS", "PS³"], "range": ["#1f77b4", "#ff7f0e", "#2ca02c", "#d62728"]}}
      },
      "layer": [
        {"transform": [{"filter": "datum.e > 0"}], "mark": {"type": "errorbar", "ticks": false, "clip": true, "rule": {"strokeWidth": 1.5, "opacity": 0.55}}, "encoding": {"yError": {"field": "e"}}},
        {"mark": {"type": "line", "strokeWidth": 1.1}, "encoding": {"x": {"field": "x", "type": "quantitative", "axis": null}}},
        {"mark": {"type": "point", "filled": false, "fill": "white", "size": 100, "strokeWidth": 1.8, "opacity": 1}, "encoding": {"x": {"field": "x", "type": "quantitative", "axis": {"orient": "top", "title": "Aria", "labels": false, "ticks": false, "domain": false, "titlePadding": 1, "titleFontSize": 17}}, "shape": {"condition": [{"test": "datum.s == 'LSS'", "value": "circle"}, {"test": "datum.s == 'PS³'", "value": "square"}], "value": "M-1,-1L1,1M-1,1L1,-1"}}}
      ],
      "resolve": {"axis": {"x": "independent"}}
    },
    {
      "width": 276, "height": 136,
      "transform": [{"filter": "datum.d == 'KDD' && datum.m == 'rel'"}],
      "encoding": {
        "x": {"field": "x", "type": "quantitative", "scale": {"domain": [0, 100]}, "axis": {"values": [0, 20, 40, 60, 80, 100], "title": null}},
        "y": {"field": "y", "type": "quantitative", "scale": {"domain": [0, 0.595], "nice": false}, "axis": {"values": [0, 0.1, 0.2, 0.3, 0.4, 0.5], "format": ".1f", "title": null}},
        "color": {"field": "s", "type": "nominal", "scale": {"domain": ["random", "random+filter", "LSS", "PS³"], "range": ["#1f77b4", "#ff7f0e", "#2ca02c", "#d62728"]}}
      },
      "layer": [
        {"transform": [{"filter": "datum.e > 0"}], "mark": {"type": "errorbar", "ticks": false, "clip": true, "rule": {"strokeWidth": 1.5, "opacity": 0.55}}, "encoding": {"yError": {"field": "e"}}},
        {"mark": {"type": "line", "strokeWidth": 1.1}, "encoding": {"x": {"field": "x", "type": "quantitative", "axis": null}}},
        {"mark": {"type": "point", "filled": false, "fill": "white", "size": 100, "strokeWidth": 1.8, "opacity": 1}, "encoding": {"x": {"field": "x", "type": "quantitative", "axis": {"orient": "top", "title": "KDD", "labels": false, "ticks": false, "domain": false, "titlePadding": 1, "titleFontSize": 17}}, "shape": {"condition": [{"test": "datum.s == 'LSS'", "value": "circle"}, {"test": "datum.s == 'PS³'", "value": "square"}], "value": "M-1,-1L1,1M-1,1L1,-1"}}}
      ],
      "resolve": {"axis": {"x": "independent"}}
    },
    {
      "width": 276, "height": 136,
      "transform": [{"filter": "datum.d == 'H' && datum.m == 'miss'"}],
      "encoding": {
        "x": {"field": "x", "type": "quantitative", "scale": {"domain": [0, 100]}, "axis": {"values": [0, 20, 40, 60, 80, 100], "title": null}},
        "y": {"field": "y", "type": "quantitative", "scale": {"domain": [0, 0.0588], "nice": false}, "axis": {"values": [0, 0.01, 0.02, 0.03, 0.04, 0.05], "format": ".2f", "title": "Missed Groups"}},
        "color": {"field": "s", "type": "nominal", "scale": {"domain": ["random", "random+filter", "LSS", "PS³"], "range": ["#1f77b4", "#ff7f0e", "#2ca02c", "#d62728"]}}
      },
      "layer": [
        {"transform": [{"filter": "datum.e > 0"}], "mark": {"type": "errorbar", "ticks": false, "clip": true, "rule": {"strokeWidth": 1.5, "opacity": 0.55}}, "encoding": {"yError": {"field": "e"}}},
        {"mark": {"type": "line", "strokeWidth": 1.1}},
        {"mark": {"type": "point", "filled": false, "fill": "white", "size": 100, "strokeWidth": 1.8, "opacity": 1}, "encoding": {"shape": {"condition": [{"test": "datum.s == 'LSS'", "value": "circle"}, {"test": "datum.s == 'PS³'", "value": "square"}], "value": "M-1,-1L1,1M-1,1L1,-1"}}}
      ]
    },
    {
      "width": 276, "height": 136,
      "transform": [{"filter": "datum.d == 'DS' && datum.m == 'miss'"}],
      "encoding": {
        "x": {"field": "x", "type": "quantitative", "scale": {"domain": [0, 100]}, "axis": {"values": [0, 20, 40, 60, 80, 100], "title": null}},
        "y": {"field": "y", "type": "quantitative", "scale": {"domain": [0, 0.0625], "nice": false}, "axis": {"values": [0, 0.01, 0.02, 0.03, 0.04, 0.05, 0.06], "format": ".2f", "title": null}},
        "color": {"field": "s", "type": "nominal", "scale": {"domain": ["random", "random+filter", "LSS", "PS³"], "range": ["#1f77b4", "#ff7f0e", "#2ca02c", "#d62728"]}}
      },
      "layer": [
        {"transform": [{"filter": "datum.e > 0"}], "mark": {"type": "errorbar", "ticks": false, "clip": true, "rule": {"strokeWidth": 1.5, "opacity": 0.55}}, "encoding": {"yError": {"field": "e"}}},
        {"mark": {"type": "line", "strokeWidth": 1.1}},
        {"mark": {"type": "point", "filled": false, "fill": "white", "size": 100, "strokeWidth": 1.8, "opacity": 1}, "encoding": {"shape": {"condition": [{"test": "datum.s == 'LSS'", "value": "circle"}, {"test": "datum.s == 'PS³'", "value": "square"}], "value": "M-1,-1L1,1M-1,1L1,-1"}}}
      ]
    },
    {
      "width": 276, "height": 136,
      "transform": [{"filter": "datum.d == 'Aria' && datum.m == 'miss'"}],
      "encoding": {
        "x": {"field": "x", "type": "quantitative", "scale": {"domain": [0, 100]}, "axis": {"values": [0, 20, 40, 60, 80, 100], "title": null}},
        "y": {"field": "y", "type": "quantitative", "scale": {"domain": [0, 0.1246], "nice": false}, "axis": {"values": [0, 0.04, 0.08, 0.12], "format": ".2f", "title": null}},
        "color": {"field": "s", "type": "nominal", "scale": {"domain": ["random", "random+filter", "LSS", "PS³"], "range": ["#1f77b4", "#ff7f0e", "#2ca02c", "#d62728"]}}
      },
      "layer": [
        {"transform": [{"filter": "datum.e > 0"}], "mark": {"type": "errorbar", "ticks": false, "clip": true, "rule": {"strokeWidth": 1.5, "opacity": 0.55}}, "encoding": {"yError": {"field": "e"}}},
        {"mark": {"type": "line", "strokeWidth": 1.1}},
        {"mark": {"type": "point", "filled": false, "fill": "white", "size": 100, "strokeWidth": 1.8, "opacity": 1}, "encoding": {"shape": {"condition": [{"test": "datum.s == 'LSS'", "value": "circle"}, {"test": "datum.s == 'PS³'", "value": "square"}], "value": "M-1,-1L1,1M-1,1L1,-1"}}}
      ]
    },
    {
      "width": 276, "height": 136,
      "transform": [{"filter": "datum.d == 'KDD' && datum.m == 'miss'"}],
      "encoding": {
        "x": {"field": "x", "type": "quantitative", "scale": {"domain": [0, 100]}, "axis": {"values": [0, 20, 40, 60, 80, 100], "title": null}},
        "y": {"field": "y", "type": "quantitative", "scale": {"domain": [0, 0.08], "nice": false}, "axis": {"values": [0, 0.02, 0.04, 0.06, 0.08], "format": ".2f", "title": null}},
        "color": {"field": "s", "type": "nominal", "scale": {"domain": ["random", "random+filter", "LSS", "PS³"], "range": ["#1f77b4", "#ff7f0e", "#2ca02c", "#d62728"]}}
      },
      "layer": [
        {"transform": [{"filter": "datum.e > 0"}], "mark": {"type": "errorbar", "ticks": false, "clip": true, "rule": {"strokeWidth": 1.5, "opacity": 0.55}}, "encoding": {"yError": {"field": "e"}}},
        {"mark": {"type": "line", "strokeWidth": 1.1}},
        {"mark": {"type": "point", "filled": false, "fill": "white", "size": 100, "strokeWidth": 1.8, "opacity": 1}, "encoding": {"shape": {"condition": [{"test": "datum.s == 'LSS'", "value": "circle"}, {"test": "datum.s == 'PS³'", "value": "square"}], "value": "M-1,-1L1,1M-1,1L1,-1"}}}
      ]
    },
    {
      "width": 276, "height": 136,
      "transform": [{"filter": "datum.d == 'H' && datum.m == 'abs'"}],
      "layer": [
        {
          "encoding": {
            "x": {"field": "x", "type": "quantitative", "scale": {"domain": [0, 100]}, "axis": {"values": [0, 20, 40, 60, 80, 100], "title": "data read (%)"}},
            "y": {"field": "y", "type": "quantitative", "scale": {"domain": [0, 0.238], "nice": false}, "axis": {"values": [0, 0.05, 0.1, 0.15, 0.2], "format": ".2f", "title": "AbsOverTrueV"}},
            "color": {"field": "s", "type": "nominal", "scale": {"domain": ["random", "random+filter", "LSS", "PS³"], "range": ["#1f77b4", "#ff7f0e", "#2ca02c", "#d62728"]}}
          },
          "layer": [
            {"transform": [{"filter": "datum.e > 0"}], "mark": {"type": "errorbar", "ticks": false, "clip": true, "rule": {"strokeWidth": 1.5, "opacity": 0.55}}, "encoding": {"yError": {"field": "e"}}},
            {"mark": {"type": "line", "strokeWidth": 1.1}},
            {"mark": {"type": "point", "filled": false, "fill": "white", "size": 100, "strokeWidth": 1.8, "opacity": 1}, "encoding": {"shape": {"condition": [{"test": "datum.s == 'LSS'", "value": "circle"}, {"test": "datum.s == 'PS³'", "value": "square"}], "value": "M-1,-1L1,1M-1,1L1,-1"}}},
            {"transform": [{"filter": "datum.s == 'random' && datum.x == 10"}], "mark": {"type": "rect", "fill": null, "stroke": "#a8a8a8", "strokeWidth": 1}, "encoding": {"x": {"datum": 0}, "x2": {"datum": 10}, "y": {"datum": 0}, "y2": {"datum": 0.1}, "color": {"value": "#a8a8a8"}}},
            {"transform": [{"filter": "datum.s == 'random' && datum.x == 10"}], "mark": {"type": "rule", "strokeWidth": 1}, "encoding": {"x": {"datum": 0}, "y": {"datum": 0.1}, "x2": {"datum": 42.75}, "y2": {"datum": 0.2275}, "color": {"value": "#a8a8a8"}}},
            {"transform": [{"filter": "datum.s == 'random' && datum.x == 10"}], "mark": {"type": "rule", "strokeWidth": 1}, "encoding": {"x": {"datum": 10}, "y": {"datum": 0}, "x2": {"datum": 95.65}, "y2": {"datum": 0.1183}, "color": {"value": "#a8a8a8"}}}
          ]
        },
        {
          "transform": [{"filter": "datum.x <= 10"}, {"window": [{"op": "lead", "field": "y", "as": "ny"}], "groupby": ["s"], "sort": [{"field": "x"}]}],
          "encoding": {
            "x": {"field": "x", "type": "quantitative", "scale": {"domain": [-1.68, 10.27], "range": [118, 264], "nice": false, "zero": false}, "axis": {"orient": "bottom", "offset": -67.6, "values": [1, 5, 10], "labelFontSize": 10, "tickSize": -3, "labelPadding": 2, "title": null}},
            "y": {"field": "y", "type": "quantitative", "scale": {"domain": [0, 0.1], "range": [68.4, 6], "clamp": true, "nice": false, "zero": false}, "axis": {"orient": "left", "offset": -118, "values": [0, 0.025, 0.05, 0.075, 0.1], "labelExpr": "datum.value == 0 ? '0' : format(datum.value, '.3~f')", "labelFontSize": 10, "tickSize": -3, "labelPadding": 2, "title": null}},
            "color": {"field": "s", "type": "nominal", "scale": {"domain": ["random", "random+filter", "LSS", "PS³"], "range": ["#1f77b4", "#ff7f0e", "#2ca02c", "#d62728"]}}
          },
          "layer": [
            {"transform": [{"filter": "datum.s == 'random' && datum.x == 10"}], "mark": {"type": "rect", "fill": "white", "stroke": "#444444", "strokeWidth": 1.2}, "encoding": {"x": {"datum": -1.68}, "x2": {"datum": 10.27}, "y": {"datum": 0}, "y2": {"datum": 0.1}, "color": {"value": "white"}}},
            {"transform": [{"filter": "datum.y <= 0.1 || (datum.ny <= 0.1 && datum.y < 0.2)"}], "mark": {"type": "line", "strokeWidth": 1.1}},
            {"transform": [{"filter": "datum.y <= 0.1"}], "mark": {"type": "point", "filled": false, "fill": "white", "size": 100, "strokeWidth": 1.8, "opacity": 1}, "encoding": {"shape": {"condition": [{"test": "datum.s == 'LSS'", "value": "circle"}, {"test": "datum.s == 'PS³'", "value": "square"}], "value": "M-1,-1L1,1M-1,1L1,-1"}}}
          ]
        }
      ],
      "resolve": {"scale": {"x": "independent", "y": "independent"}}
    },
    {
      "width": 276, "height": 136,
      "transform": [{"filter": "datum.d == 'DS' && datum.m == 'abs'"}],
      "encoding": {
        "x": {"field": "x", "type": "quantitative", "scale": {"domain": [0, 100]}, "axis": {"values": [0, 20, 40, 60, 80, 100], "title": "data read (%)"}},
        "y": {"field": "y", "type": "quantitative", "scale": {"domain": [0, 0.102], "nice": false}, "axis": {"values": [0, 0.02, 0.04, 0.06, 0.08, 0.1], "format": ".2f", "title": null}},
        "color": {"field": "s", "type": "nominal", "scale": {"domain": ["random", "random+filter", "LSS", "PS³"], "range": ["#1f77b4", "#ff7f0e", "#2ca02c", "#d62728"]}}
      },
      "layer": [
        {"transform": [{"filter": "datum.e > 0"}], "mark": {"type": "errorbar", "ticks": false, "clip": true, "rule": {"strokeWidth": 1.5, "opacity": 0.55}}, "encoding": {"yError": {"field": "e"}}},
        {"mark": {"type": "line", "strokeWidth": 1.1}},
        {"mark": {"type": "point", "filled": false, "fill": "white", "size": 100, "strokeWidth": 1.8, "opacity": 1}, "encoding": {"shape": {"condition": [{"test": "datum.s == 'LSS'", "value": "circle"}, {"test": "datum.s == 'PS³'", "value": "square"}], "value": "M-1,-1L1,1M-1,1L1,-1"}}}
      ]
    },
    {
      "width": 276, "height": 136,
      "transform": [{"filter": "datum.d == 'Aria' && datum.m == 'abs'"}],
      "encoding": {
        "x": {"field": "x", "type": "quantitative", "scale": {"domain": [0, 100]}, "axis": {"values": [0, 20, 40, 60, 80, 100], "title": "data read (%)"}},
        "y": {"field": "y", "type": "quantitative", "scale": {"domain": [0, 0.2], "nice": false}, "axis": {"values": [0, 0.05, 0.1, 0.15, 0.2], "format": ".2f", "title": null}},
        "color": {"field": "s", "type": "nominal", "scale": {"domain": ["random", "random+filter", "LSS", "PS³"], "range": ["#1f77b4", "#ff7f0e", "#2ca02c", "#d62728"]}}
      },
      "layer": [
        {"transform": [{"filter": "datum.e > 0"}], "mark": {"type": "errorbar", "ticks": false, "clip": true, "rule": {"strokeWidth": 1.5, "opacity": 0.55}}, "encoding": {"yError": {"field": "e"}}},
        {"mark": {"type": "line", "strokeWidth": 1.1}},
        {"mark": {"type": "point", "filled": false, "fill": "white", "size": 100, "strokeWidth": 1.8, "opacity": 1}, "encoding": {"shape": {"condition": [{"test": "datum.s == 'LSS'", "value": "circle"}, {"test": "datum.s == 'PS³'", "value": "square"}], "value": "M-1,-1L1,1M-1,1L1,-1"}}}
      ]
    },
    {
      "width": 276, "height": 136,
      "transform": [{"filter": "datum.d == 'KDD' && datum.m == 'abs'"}],
      "encoding": {
        "x": {"field": "x", "type": "quantitative", "scale": {"domain": [0, 100]}, "axis": {"values": [0, 20, 40, 60, 80, 100], "title": "data read (%)"}},
        "y": {"field": "y", "type": "quantitative", "scale": {"domain": [0, 0.424], "nice": false}, "axis": {"values": [0, 0.1, 0.2, 0.3, 0.4], "format": ".1f", "title": null}},
        "color": {"field": "s", "type": "nominal", "scale": {"domain": ["random", "random+filter", "LSS", "PS³"], "range": ["#1f77b4", "#ff7f0e", "#2ca02c", "#d62728"]}}
      },
      "layer": [
        {"transform": [{"filter": "datum.e > 0"}], "mark": {"type": "errorbar", "ticks": false, "clip": true, "rule": {"strokeWidth": 1.5, "opacity": 0.55}}, "encoding": {"yError": {"field": "e"}}},
        {"mark": {"type": "line", "strokeWidth": 1.1}},
        {"mark": {"type": "point", "filled": false, "fill": "white", "size": 100, "strokeWidth": 1.8, "opacity": 1}, "encoding": {"shape": {"condition": [{"test": "datum.s == 'LSS'", "value": "circle"}, {"test": "datum.s == 'PS³'", "value": "square"}], "value": "M-1,-1L1,1M-1,1L1,-1"}}}
      ]
    }
  ],
  "config": {
    "font": "DejaVu Sans",
    "view": {"stroke": "black", "strokeWidth": 1},
    "axis": {"grid": false, "domain": false, "tickSize": -4, "tickColor": "black", "labelColor": "black", "labelFontSize": 11, "labelFont": "DejaVu Sans", "titleFont": "DejaVu Sans", "titleFontWeight": "normal", "titleColor": "black", "labelPadding": 3},
    "axisX": {"titleFontSize": 16, "titlePadding": 2},
    "axisY": {"titleFontSize": 17, "titlePadding": 6}
  }
}
